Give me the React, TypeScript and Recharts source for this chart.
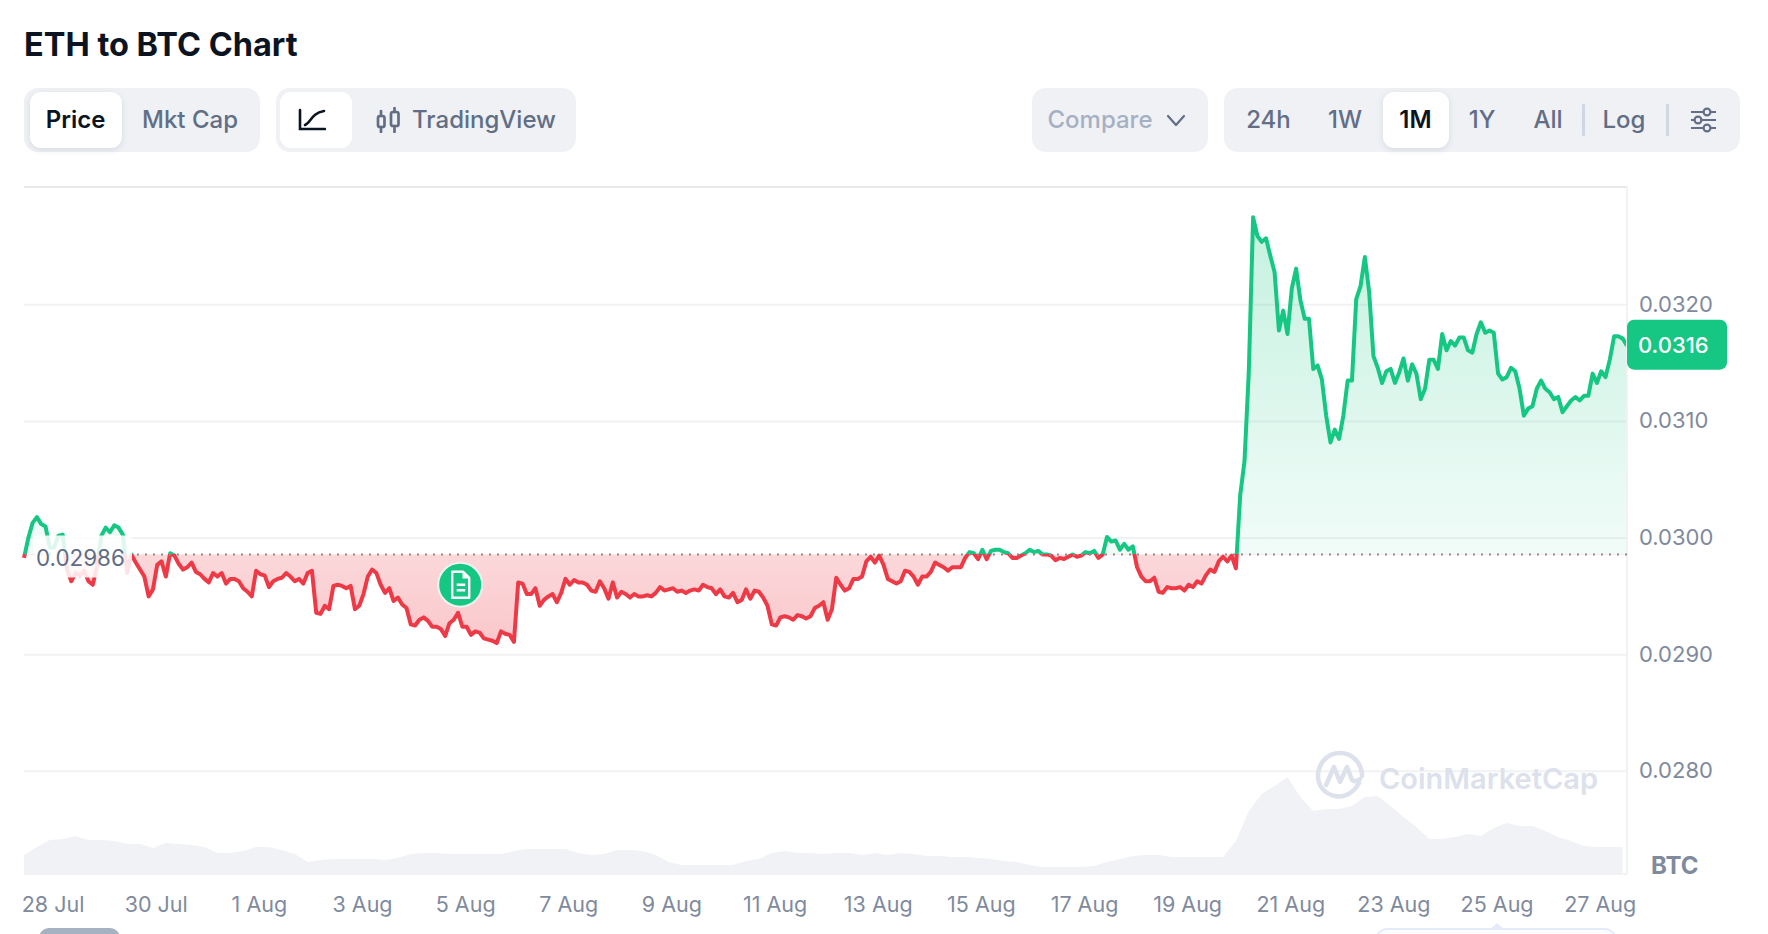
import React from "react";
import {
  ComposedChart,
  Area,
  XAxis,
  YAxis,
  CartesianGrid,
  ReferenceLine,
  ReferenceDot,
} from "recharts";

// Price in 1e-5 BTC, one reading every two hours, grouped by calendar day.
const jul27 = [2983, 3000, 3013, 3018, 3012, 3010, 2992];
const jul28 = [2992, 3002, 3003, 2973, 2963, 2970, 2968, 2972, 2963, 2960, 2976, 3002];
const jul29 = [3009, 3005, 3011, 3009, 3003, 2970, 2986, 2979, 2973, 2967, 2950, 2956];
const jul30 = [2977, 2980, 2967, 2987, 2985, 2978, 2973, 2975, 2979, 2971, 2969, 2965];
const jul31 = [2962, 2970, 2967, 2970, 2961, 2965, 2965, 2963, 2957, 2954, 2950, 2972];
const aug1 = [2969, 2968, 2958, 2963, 2965, 2966, 2970, 2967, 2963, 2965, 2961, 2970];
const aug2 = [2972, 2936, 2935, 2942, 2939, 2959, 2960, 2959, 2957, 2959, 2939, 2942];
const aug3 = [2952, 2967, 2973, 2970, 2960, 2953, 2957, 2946, 2949, 2943, 2940, 2926];
const aug4 = [2925, 2930, 2932, 2929, 2924, 2924, 2922, 2916, 2927, 2930, 2936, 2924];
const aug5 = [2924, 2917, 2920, 2919, 2914, 2913, 2912, 2910, 2920, 2918, 2917, 2911];
const aug6 = [2962, 2961, 2952, 2952, 2957, 2942, 2947, 2950, 2952, 2945, 2953, 2965];
const aug7 = [2960, 2964, 2962, 2962, 2960, 2955, 2954, 2963, 2957, 2948, 2962, 2949];
const aug8 = [2954, 2952, 2949, 2952, 2950, 2950, 2951, 2950, 2953, 2958, 2955, 2956];
const aug9 = [2957, 2954, 2955, 2953, 2955, 2956, 2955, 2960, 2958, 2957, 2952, 2956];
const aug10 = [2950, 2949, 2953, 2945, 2947, 2956, 2948, 2955, 2954, 2949, 2942, 2926];
const aug11 = [2925, 2932, 2933, 2932, 2930, 2934, 2933, 2931, 2933, 2940, 2942, 2945];
const aug12 = [2930, 2939, 2966, 2960, 2955, 2957, 2965, 2965, 2967, 2980, 2984, 2979];
const aug13 = [2985, 2977, 2965, 2963, 2961, 2963, 2972, 2971, 2967, 2960, 2967, 2967];
const aug14 = [2971, 2979, 2977, 2975, 2972, 2975, 2975, 2975, 2983, 2988, 2987, 2982];
const aug15 = [2990, 2982, 2989, 2990, 2990, 2988, 2987, 2983, 2983, 2985, 2987, 2990];
const aug16 = [2988, 2989, 2986, 2986, 2985, 2981, 2983, 2982, 2984, 2986, 2984, 2985];
const aug17 = [2988, 2987, 2989, 2983, 2986, 3001, 2997, 2998, 2990, 2995, 2990, 2993];
const aug18 = [2975, 2967, 2963, 2963, 2966, 2954, 2953, 2958, 2957, 2957, 2958, 2955];
const aug19 = [2960, 2958, 2963, 2961, 2968, 2973, 2971, 2980, 2984, 2980, 2985, 2974];
const aug20 = [3037, 3066, 3143, 3275, 3259, 3254, 3257, 3242, 3228, 3178, 3195, 3175];
const aug21 = [3214, 3231, 3204, 3188, 3188, 3145, 3148, 3136, 3105, 3082, 3093, 3085];
const aug22 = [3105, 3135, 3135, 3205, 3216, 3241, 3211, 3156, 3146, 3133, 3143, 3145];
const aug23 = [3133, 3142, 3154, 3135, 3149, 3141, 3119, 3128, 3153, 3153, 3145, 3175];
const aug24 = [3161, 3169, 3165, 3172, 3172, 3161, 3159, 3175, 3185, 3176, 3178, 3176];
const aug25 = [3141, 3136, 3138, 3146, 3143, 3128, 3105, 3111, 3113, 3128, 3135, 3128];
const aug26 = [3125, 3119, 3121, 3108, 3113, 3118, 3121, 3118, 3122, 3122, 3141, 3133];
const aug27 = [3143, 3138, 3153, 3173, 3173, 3171, 3165];

// Relative volume, one reading every six hours.
const volumeJul = [19, 27, 34, 35, 38, 34, 34, 33, 30, 30, 26, 31, 30, 29, 27, 21, 21, 23, 27, 27, 24];
const volumeAugA = [20, 12, 14, 15, 15, 15, 15, 14, 16, 20, 21, 21, 20, 20, 20, 20, 20, 23, 25, 25, 25, 25, 21, 19, 20, 24, 24, 23];
const volumeAugB = [19, 12, 9, 9, 9, 9, 9, 13, 15, 21, 23, 21, 21, 20, 21, 21, 19, 21, 19, 21, 20, 18, 18, 17, 17, 16, 15, 13, 12, 9, 7, 7, 7, 7, 8, 12, 15, 18, 19, 19, 17, 17, 17, 17, 17];
const volumeAugC = [33, 63, 80, 88, 97, 77, 63, 65, 65, 68, 77, 78, 68, 57, 47, 35, 35, 37, 40, 38, 46, 51, 48, 48, 43, 37, 33, 28, 27, 27, 27];

const tickLabels = ["28 Jul", "30 Jul", "1 Aug", "3 Aug", "5 Aug", "7 Aug", "9 Aug", "11 Aug", "13 Aug", "15 Aug", "17 Aug", "19 Aug", "21 Aug", "23 Aug", "25 Aug", "27 Aug"];
const priceTicks = [0.028, 0.029, 0.03, 0.031, 0.032];
const referencePrice = 0.02986;
const lastPrice = 0.03165;
const noteHour = 189;
const notePrice = 0.0296;

const prices = [
  ...jul27, ...jul28, ...jul29, ...jul30, ...jul31,
  ...aug1, ...aug2, ...aug3, ...aug4, ...aug5, ...aug6, ...aug7, ...aug8, ...aug9,
  ...aug10, ...aug11, ...aug12, ...aug13, ...aug14, ...aug15, ...aug16, ...aug17,
  ...aug18, ...aug19, ...aug20, ...aug21, ...aug22, ...aug23, ...aug24, ...aug25,
  ...aug26, ...aug27,
].map((p) => p / 100000);
const volumes = [...volumeJul, ...volumeAugA, ...volumeAugB, ...volumeAugC];

const FIRST_HOUR = -14;
const rows = prices.map((price, i) => ({
  hour: FIRST_HOUR + i * 2,
  price,
  volume: i % 3 === 0 ? volumes[i / 3] : undefined,
}));
const lastHour = rows[rows.length - 1].hour;
const hourTicks = tickLabels.map((_, i) => i * 48);

const maxP = Math.max(...prices);
const minP = Math.min(...prices);
const split = (maxP - referencePrice) / (maxP - minP);

const GREEN = "#16c784";
const RED = "#ee3a46";
const FONT = "Inter, sans-serif";
const AXIS = "#808a9d";

const Box = ({ x, y, w, h, r = 14, bg = "#eff1f5", shadow }: any) => (
  <div style={{ position: "absolute", left: x, top: y, width: w, height: h, borderRadius: r, background: bg, boxShadow: shadow }} />
);
const Label = ({ cx, cy = 120, text, color = "#616e85", weight = 500, size = 24 }: any) => (
  <div style={{ position: "absolute", left: cx, top: cy, transform: "translate(-50%,-50%)", color, fontWeight: weight, fontSize: size, whiteSpace: "nowrap", lineHeight: 1 }}>{text}</div>
);
const ACTIVE_SHADOW = "0 2px 6px rgba(88,102,126,0.16)";

const NoteMark = (props: any) => {
  const { cx, cy } = props;
  return (
    <g transform={`translate(${cx},${cy})`}>
      <circle r={22} fill={GREEN} stroke="#eef3f1" strokeWidth={2} />
      <path d="M-8,-13 H3 L9,-7 V13 H-8 Z" fill="none" stroke="#fff" strokeWidth={2.4} strokeLinejoin="round" />
      <path d="M3,-13 V-7 H9" fill="#fff" stroke="#fff" strokeWidth={1.4} />
      <path d="M-3.5,0 H5 M-3.5,5.5 H5" stroke="#fff" strokeWidth={2.4} />
    </g>
  );
};

const LastTag = (props: any) => {
  const { cx, cy } = props;
  return (
    <g>
      <rect x={cx} y={cy - 26} width={100} height={50} rx={7} fill={GREEN} />
      <text x={cx + 11} y={cy + 1} dominantBaseline="middle" fill="#fff" fontFamily={FONT} fontSize={22} fontWeight={500}>
        0.0316
      </text>
    </g>
  );
};

const RefLabel = (props: any) => {
  const { viewBox } = props;
  const y = viewBox.y;
  return (
    <g>
      <rect x={viewBox.x + 9} y={y - 19} width={99} height={42} rx={4} fill="#fff" fillOpacity={0.86} />
      <text x={viewBox.x + 12} y={y + 5} dominantBaseline="middle" fill="#5f6c85" fontFamily={FONT} fontSize={22.4} fontWeight={400}>
        0.02986
      </text>
    </g>
  );
};

export default function App() {
  return (
    <div style={{ position: "absolute", left: 0, top: 0, width: 1768, height: 934, overflow: "hidden", background: "#fff", fontFamily: FONT }}>
      <div style={{ position: "absolute", left: 24, top: 26, fontSize: 32.5, fontWeight: 700, color: "#0d1421", lineHeight: "38px", whiteSpace: "nowrap" }}>ETH to BTC Chart</div>

      <Box x={24} y={88} w={236} h={64} />
      <Box x={30} y={92} w={92} h={56} r={11} bg="#fff" shadow={ACTIVE_SHADOW} />
      <Label cx={75.5} text="Price" color="#0d1421" weight={600} />
      <Label cx={190} text="Mkt Cap" />

      <Box x={276} y={88} w={300} h={64} />
      <Box x={280} y={92} w={72} h={56} r={11} bg="#fff" />
      <svg style={{ position: "absolute", left: 298, top: 108 }} width={28} height={24} viewBox="0 0 28 24" fill="none" stroke="#0d1421" strokeWidth={2.6} strokeLinecap="round">
        <path d="M2,2 V21 H27" />
        <path d="M7,17 C13,15 13,5 26,3" />
      </svg>
      <svg style={{ position: "absolute", left: 375, top: 107 }} width={28} height={26} viewBox="0 0 28 26" fill="none" stroke="#616e85" strokeWidth={2.7} strokeLinecap="round">
        <rect x={3} y={9} width={6.5} height={11} rx={2} />
        <path d="M6,4 V9 M6,20 V25" />
        <rect x={16} y={5} width={7.5} height={14} rx={2} />
        <path d="M19.5,1 V5 M19.5,19 V25" />
      </svg>
      <Label cx={484} text="TradingView" />

      <Box x={1032} y={88} w={176} h={64} />
      <Label cx={1100} text="Compare" color="#a6b0c3" />
      <svg style={{ position: "absolute", left: 1166, top: 112 }} width={20} height={16} viewBox="0 0 20 16" fill="none" stroke="#616e85" strokeWidth={2.2} strokeLinecap="round" strokeLinejoin="round">
        <path d="M2,4 L10,13 L18,4" />
      </svg>

      <Box x={1224} y={88} w={516} h={64} />
      <Box x={1383} y={92} w={66} h={56} r={11} bg="#fff" shadow={ACTIVE_SHADOW} />
      <Label cx={1268.5} text="24h" />
      <Label cx={1345} text="1W" />
      <Label cx={1415.5} text="1M" color="#0d1421" weight={600} />
      <Label cx={1482} text="1Y" />
      <Label cx={1548} text="All" />
      <Box x={1582} y={104} w={3} h={32} r={1} bg="#cfd6e4" />
      <Label cx={1624} text="Log" />
      <Box x={1665.5} y={104} w={3} h={32} r={1} bg="#cfd6e4" />
      <svg style={{ position: "absolute", left: 1690, top: 107 }} width={27} height={26} viewBox="0 0 27 26" fill="none" stroke="#616e85" strokeWidth={2.2}>
        <path d="M1,5 H13 M21,5 H26 M1,13 H4 M12,13 H26 M1,21 H13 M21,21 H26" />
        <circle cx={17} cy={5} r={3.4} />
        <circle cx={8} cy={13} r={3.4} />
        <circle cx={17} cy={21} r={3.4} />
      </svg>

      <div style={{ position: "absolute", left: 0, top: 0 }}>
        <ComposedChart width={1768} height={934} data={rows} margin={{ top: 187, right: 0, bottom: 0, left: 24 }}>
          <defs>
            <linearGradient id="splitStroke" x1="0" y1="0" x2="0" y2="1">
              <stop offset={split} stopColor={GREEN} />
              <stop offset={split} stopColor={RED} />
            </linearGradient>
            <linearGradient id="splitFill" x1="0" y1="0" x2="0" y2="1">
              <stop offset={0} stopColor={GREEN} stopOpacity={0.25} />
              <stop offset={split} stopColor={GREEN} stopOpacity={0.06} />
              <stop offset={split} stopColor={RED} stopOpacity={0.2} />
              <stop offset={1} stopColor={RED} stopOpacity={0.28} />
            </linearGradient>
          </defs>
          <CartesianGrid yAxisId="price" vertical={false} stroke="#f1f2f4" strokeWidth={2} />
          <XAxis
            dataKey="hour"
            type="number"
            domain={[FIRST_HOUR, lastHour]}
            ticks={hourTicks}
            interval={0}
            height={60}
            tickLine={false}
            axisLine={false}
            tickMargin={17}
            tick={{ fill: AXIS, fontSize: 21.5, fontFamily: FONT, dx: -1 }}
            tickFormatter={(h: number) => tickLabels[h / 48]}
          />
          <YAxis
            yAxisId="price"
            orientation="right"
            width={141}
            domain={[0.02712, 0.03301]}
            ticks={priceTicks}
            interval={0}
            tickLine={false}
            axisLine={false}
            tickMargin={6}
            tick={{ fill: AXIS, fontSize: 22, fontFamily: FONT, textAnchor: "start", dy: -1 }}
            tickFormatter={(v: number) => v.toFixed(4)}
          />
          <YAxis yAxisId="volume" hide domain={[0, 687]} />
          <Area yAxisId="volume" dataKey="volume" type="linear" connectNulls stroke="none" fill="#f1f2f6" fillOpacity={1} isAnimationActive={false} dot={false} activeDot={false} />
          <Area yAxisId="price" dataKey="price" type="linear" baseValue={referencePrice} stroke="url(#splitStroke)" strokeWidth={4} strokeLinejoin="round" fill="url(#splitFill)" fillOpacity={1} isAnimationActive={false} dot={false} activeDot={false} />
          <ReferenceLine yAxisId="price" y={0.03301} stroke="#e6e8eb" strokeWidth={2} ifOverflow="visible" />
          <ReferenceLine yAxisId="price" x={lastHour} stroke="#f1f2f4" strokeWidth={2} ifOverflow="visible" />
          <ReferenceLine yAxisId="price" y={referencePrice} stroke="#8d8d8d" strokeWidth={2} strokeDasharray="2 6" label={<RefLabel />} />
          <ReferenceDot yAxisId="price" x={noteHour} y={notePrice} shape={<NoteMark />} ifOverflow="visible" />
          <ReferenceDot yAxisId="price" x={lastHour} y={lastPrice} shape={<LastTag />} ifOverflow="visible" />
        </ComposedChart>
      </div>

      <svg style={{ position: "absolute", left: 1315, top: 750, pointerEvents: "none" }} width={50} height={52} viewBox="0 0 50 52" fill="none" stroke="#dce1ec" strokeWidth={4.5} strokeLinecap="round" strokeLinejoin="round">
        <path d="M44,33 C38,44 28,48 20,46 C9,44 3,35 3,26 C3,13 13,3 25,3 C37,3 47,13 47,26" />
        <path d="M11,35 L19,17 L25,32 L32,17 L37,30 C39,32 42,31 45,29" />
      </svg>
      <div style={{ position: "absolute", left: 1379, top: 778, transform: "translateY(-50%)", fontSize: 29, fontWeight: 600, color: "#dce1ec", lineHeight: 1, whiteSpace: "nowrap" }}>CoinMarketCap</div>

      <div style={{ position: "absolute", left: 1651, top: 866, transform: "translateY(-50%)", fontSize: 24, fontWeight: 700, color: AXIS, lineHeight: 1 }}>BTC</div>

      <Box x={39} y={928} w={81} h={20} r={12} bg="#a6b1c2" />
      <div style={{ position: "absolute", left: 1375, top: 928, width: 242, height: 24, boxSizing: "border-box", border: "2px solid #e6ebfb", borderRadius: 14, background: "#fbfcff" }} />
      <div style={{ position: "absolute", left: 1489, top: 923, width: 0, height: 0, borderLeft: "8px solid transparent", borderRight: "8px solid transparent", borderBottom: "7px solid #e6ebfb" }} />
    </div>
  );
}
